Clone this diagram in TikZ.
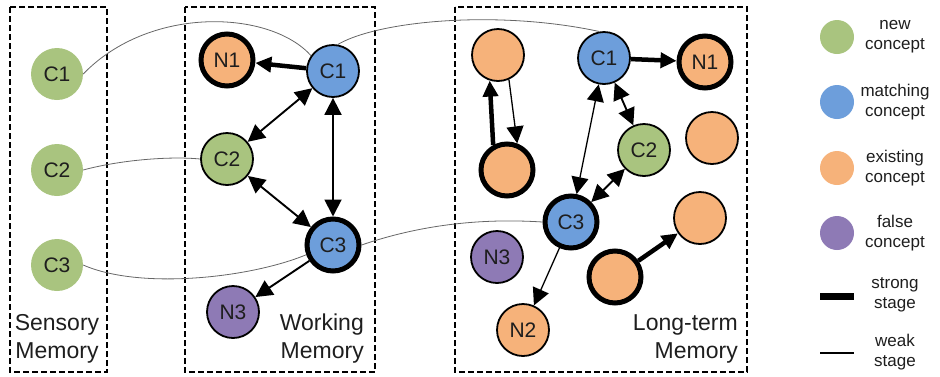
\documentclass[tikz,border=0pt]{standalone}
\usepackage{fontspec}
\setmainfont{Liberation Sans}
\usetikzlibrary{arrows.meta}
\definecolor{cnew}{HTML}{A9C47F}
\definecolor{cmatch}{HTML}{6D9EDB}
\definecolor{cexist}{HTML}{F6B27A}
\definecolor{cfalse}{HTML}{8E7AB5}
\definecolor{ink}{HTML}{1E1E1E}
\tikzset{
  concept/.style={circle, minimum size=52pt, inner sep=0pt, text=ink,
    font=\fontsize{21}{23}\selectfont},
  weakb/.style={draw=black, line width=1.8pt},
  strongb/.style={draw=black, line width=5pt},
  newc/.style={concept, fill=cnew},
  matchc/.style={concept, fill=cmatch},
  existc/.style={concept, fill=cexist},
  falsec/.style={concept, fill=cfalse},
  membox/.style={draw=black, line width=1.8pt, dash pattern=on 6pt off 3pt},
  memlabel/.style={text=ink, font=\fontsize{23}{28}\selectfont, inner sep=0pt},
  head/.tip={Triangle[length=17pt,width=17pt]},
  shead/.tip={Triangle[length=16pt,width=15pt]},
  tip/.style={-head},
  bitip/.style={head-head},
  stip/.style={-shead},
  midlink/.style={line width=1.9pt},
  thinlink/.style={line width=1.3pt},
  stronglink/.style={line width=4.5pt},
  trace/.style={draw=black!60, line width=0.8pt},
  legdot/.style={circle, minimum size=34pt, inner sep=0pt},
  legtext/.style={text=ink, align=center, font=\fontsize{17}{20}\selectfont, inner sep=0pt}
}
\begin{document}
\begin{tikzpicture}[x=1pt, y=-1pt]
\useasboundingbox (0,0) rectangle (940,376);

% memory stores
\draw[membox] (10,7) rectangle (107,372);
\draw[membox] (185,7) rectangle (375,372);
\draw[membox] (455,7) rectangle (747,372);

\node[memlabel, align=center] (lblS) at (57,339) {Sensory\\Memory};
\node[memlabel, align=right, anchor=east] (lblW) at (364,339) {Working\\Memory};
\node[memlabel, align=right, anchor=east] (lblL) at (738,339) {Long-term\\Memory};

% sensory memory
\node[newc] (sC1) at (57,74) {C1};
\node[newc] (sC2) at (57,170) {C2};
\node[newc] (sC3) at (57,265) {C3};

% working memory
\node[existc, strongb] (wN1) at (227,60) {N1};
\node[matchc, weakb] (wC1) at (333,71) {C1};
\node[newc, weakb] (wC2) at (227,159) {C2};
\node[matchc, strongb] (wC3) at (333,245) {C3};
\node[falsec, weakb] (wN3) at (233,312) {N3};

% long-term memory
\node[existc, weakb] (lA) at (498,55) {};
\node[existc, strongb] (lB) at (507,170) {};
\node[matchc, weakb] (lC1) at (604,58) {C1};
\node[existc, strongb] (lN1) at (705,62) {N1};
\node[newc, weakb] (lC2) at (644,150) {C2};
\node[existc, weakb] (lD) at (712,138) {};
\node[matchc, strongb] (lC3) at (571,222) {C3};
\node[falsec, weakb] (lN3) at (497,257) {N3};
\node[existc, weakb] (lE) at (700,218) {};
\node[existc, strongb] (lF) at (615,277) {};
\node[existc, weakb] (lN2) at (523,330) {N2};

% traces between stores
\draw[trace] (sC1.east) .. controls (150,5) and (270,10) .. (wC1.145);
\draw[trace] (wC1.80) .. controls (380,20) and (500,10) .. (lC1.100);
\draw[trace] (sC2.east) .. controls (120,160) and (170,156) .. (wC2.west);
\draw[trace] (sC3.east) .. controls (140,290) and (250,278) .. (wC3.200);
\draw[trace] (wC3.east) .. controls (420,225) and (480,218) .. (lC3.west);

% working memory links
\draw[stip, stronglink] (wC1) -- (wN1);
\draw[bitip, midlink] (wC1) -- (wC2);
\draw[bitip, midlink] (wC1) -- (wC3);
\draw[bitip, midlink] (wC2) -- (wC3);
\draw[tip, midlink] (wC3) -- (wN3);

% long-term memory links
\draw[stip, stronglink] (lB.119) -- (lA.-108);
\draw[tip, thinlink] (lA.-66) -- (lB.69);
\draw[stip, stronglink] (lC1) -- (lN1);
\draw[bitip, midlink] (lC1) -- (lC2);
\draw[bitip, thinlink] (lC1) -- (lC3);
\draw[bitip, midlink] (lC2) -- (lC3);
\draw[tip, thinlink] (lC3) -- (lN2);
\draw[stip, stronglink] (lF) -- (lE);

% legend
\node[legdot, fill=cnew] (kNew) at (837,37) {};
\node[legdot, fill=cmatch] (kMatch) at (837,102) {};
\node[legdot, fill=cexist] (kExist) at (837,168) {};
\node[legdot, fill=cfalse] (kFalse) at (837,233) {};
\node[legtext] (tNew) at (895,37) {new\\concept};
\node[legtext] (tMatch) at (895,102) {matching\\concept};
\node[legtext] (tExist) at (895,168) {existing\\concept};
\node[legtext] (tFalse) at (895,233) {false\\concept};
\coordinate (kS1) at (820,296);
\coordinate (kS2) at (854,296);
\coordinate (kW1) at (820,353);
\coordinate (kW2) at (854,353);
\draw[line width=7pt] (kS1) -- (kS2);
\draw[line width=1.6pt] (kW1) -- (kW2);
\node[legtext] (tStrong) at (895,295) {strong\\stage};
\node[legtext] (tWeak) at (895,352) {weak\\stage};
\end{tikzpicture}
\end{document}
